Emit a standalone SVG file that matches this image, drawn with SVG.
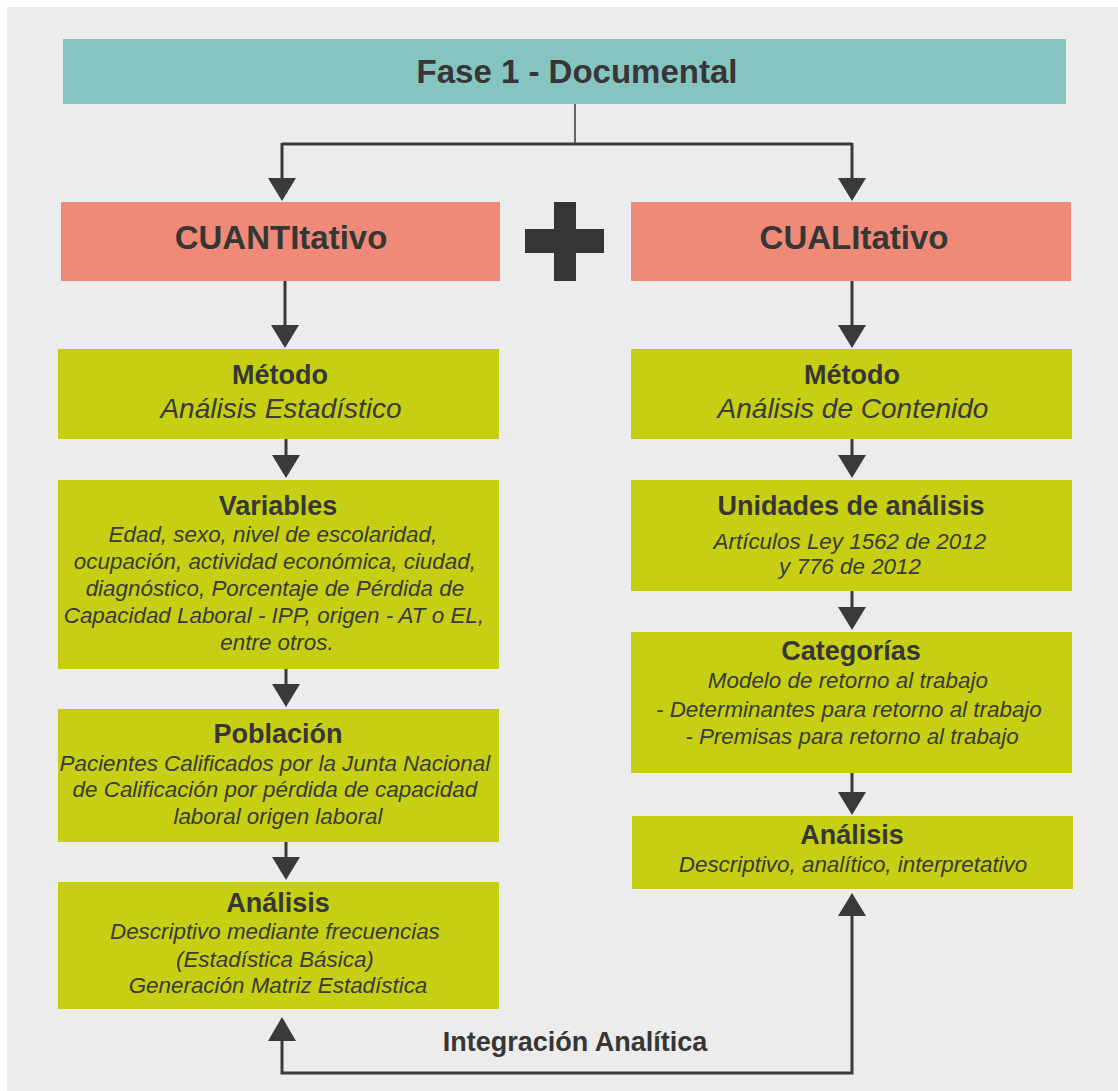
<svg xmlns="http://www.w3.org/2000/svg" width="1118" height="1091" viewBox="0 0 1118 1091">
  <style>
    .box-teal { fill: #86c4c1; }
    .box-red { fill: #ee8a77; }
    .box-green { fill: #c6cf13; }
    .head { font-family: "Liberation Sans", Arial, sans-serif; font-weight: bold; fill: #363636; text-anchor: middle; }
    .big { font-size: 33px; }
    .title { font-size: 27px; }
    .body { font-family: "Liberation Sans", Arial, sans-serif; font-style: italic; font-size: 22.4px; fill: #3a3a3a; text-anchor: middle; }
    .sub { font-size: 28px; }
    .wire { fill: none; stroke: #3a3a3a; stroke-width: 3; }
    .thin { fill: none; stroke: #3a3a3a; stroke-width: 1.5; }
    .head-arrow { fill: #3a3a3a; }
  </style>

  <!-- page background -->
  <rect x="0" y="0" width="1118" height="1091" fill="#ffffff"/>
  <rect x="7" y="7" width="1111" height="1084" fill="#ececec"/>

  <!-- connectors -->
  <g id="connectors">
    <line x1="575" y1="104" x2="575" y2="144" class="thin"/>
    <path d="M282,144 H852" class="wire"/>
    <path d="M282,143 V178" class="wire"/>
    <path d="M852,143 V178" class="wire"/>
    <path d="M282,178 L268,178 L282,201 L296,178 Z" class="head-arrow"/>
    <path d="M852,178 L838,178 L852,201 L866,178 Z" class="head-arrow"/>

    <!-- left column -->
    <path d="M285,281 V325" class="wire"/>
    <path d="M271,325 L299,325 L285,348 Z" class="head-arrow"/>
    <path d="M286,439 V455" class="wire"/>
    <path d="M272,455 L300,455 L286,478 Z" class="head-arrow"/>
    <path d="M286,669 V684" class="wire"/>
    <path d="M272,684 L300,684 L286,707 Z" class="head-arrow"/>
    <path d="M286,842 V857" class="wire"/>
    <path d="M272,857 L300,857 L286,880 Z" class="head-arrow"/>

    <!-- right column -->
    <path d="M852,281 V325" class="wire"/>
    <path d="M838,325 L866,325 L852,348 Z" class="head-arrow"/>
    <path d="M852,439 V455" class="wire"/>
    <path d="M838,455 L866,455 L852,478 Z" class="head-arrow"/>
    <path d="M852,591 V607" class="wire"/>
    <path d="M838,607 L866,607 L852,630 Z" class="head-arrow"/>
    <path d="M852,773 V792" class="wire"/>
    <path d="M838,792 L866,792 L852,815 Z" class="head-arrow"/>

    <!-- integration loop -->
    <path d="M282,1041 V1073 H852 V916" class="wire"/>
    <path d="M268,1041 L296,1041 L282,1017 Z" class="head-arrow"/>
    <path d="M838,916 L866,916 L852,893 Z" class="head-arrow"/>
    <text x="575" y="1051" class="head title">Integración Analítica</text>
  </g>

  <g id="fase1">
    <rect x="63" y="39" width="1003" height="65" class="box-teal"/>
    <text x="577" y="83" class="head big">Fase 1 - Documental</text>
  </g>

  <g id="cuantitativo">
    <rect x="61" y="202" width="439" height="79" class="box-red"/>
    <text x="281" y="249" class="head big">CUANTItativo</text>
  </g>

  <g id="plus">
    <rect x="554" y="202" width="22" height="79" fill="#353535"/>
    <rect x="525" y="229" width="79" height="24" fill="#353535"/>
  </g>

  <g id="cualitativo">
    <rect x="631" y="202" width="440" height="79" class="box-red"/>
    <text x="854" y="249" class="head big">CUALItativo</text>
  </g>

  <g id="metodo-cuanti">
    <rect x="58" y="349" width="441" height="90" class="box-green"/>
    <text x="280" y="384" class="head title">Método</text>
    <text x="281" y="418" class="body sub">Análisis Estadístico</text>
  </g>

  <g id="variables">
    <rect x="58" y="480" width="441" height="189" class="box-green"/>
    <text x="278" y="515" class="head title">Variables</text>
    <text class="body">
      <tspan x="276" y="542">Edad, sexo, nivel de escolaridad,</tspan>
      <tspan x="278" y="569">ocupación, actividad económica, ciudad,</tspan>
      <tspan x="278" y="596">diagnóstico, Porcentaje de Pérdida de</tspan>
      <tspan x="277" y="623">Capacidad Laboral - IPP, origen - AT o EL,</tspan>
      <tspan x="277" y="650">entre otros.</tspan>
    </text>
  </g>

  <g id="poblacion">
    <rect x="58" y="709" width="441" height="133" class="box-green"/>
    <text x="278" y="743" class="head title">Población</text>
    <text class="body">
      <tspan x="278" y="771">Pacientes Calificados por la Junta Nacional</tspan>
      <tspan x="278" y="797">de Calificación por pérdida de capacidad</tspan>
      <tspan x="278" y="824">laboral origen laboral</tspan>
    </text>
  </g>

  <g id="analisis-cuanti">
    <rect x="58" y="882" width="441" height="127" class="box-green"/>
    <text x="278" y="912" class="head title">Análisis</text>
    <text class="body">
      <tspan x="278" y="939">Descriptivo mediante frecuencias</tspan>
      <tspan x="278" y="967">(Estadística Básica)</tspan>
      <tspan x="278" y="993">Generación Matriz Estadística</tspan>
    </text>
  </g>

  <g id="metodo-cuali">
    <rect x="631" y="349" width="441" height="90" class="box-green"/>
    <text x="852" y="384" class="head title">Método</text>
    <text x="853" y="418" class="body sub">Análisis de Contenido</text>
  </g>

  <g id="unidades">
    <rect x="631" y="480" width="441" height="111" class="box-green"/>
    <text x="851" y="515" class="head title">Unidades de análisis</text>
    <text class="body">
      <tspan x="853" y="549">Artículos Ley 1562 de 2012</tspan>
      <tspan x="850" y="574">y 776 de 2012</tspan>
    </text>
  </g>

  <g id="categorias">
    <rect x="631" y="632" width="441" height="141" class="box-green"/>
    <text x="851" y="660" class="head title">Categorías</text>
    <text class="body">
      <tspan x="851" y="688">Modelo de retorno al trabajo</tspan>
      <tspan x="852" y="717">- Determinantes para retorno al trabajo</tspan>
      <tspan x="852" y="744">- Premisas para retorno al trabajo</tspan>
    </text>
  </g>

  <g id="analisis-cuali">
    <rect x="632" y="816" width="441" height="73" class="box-green"/>
    <text x="852" y="844" class="head title">Análisis</text>
    <text x="853" y="872" class="body">Descriptivo, analítico, interpretativo</text>
  </g>
</svg>
